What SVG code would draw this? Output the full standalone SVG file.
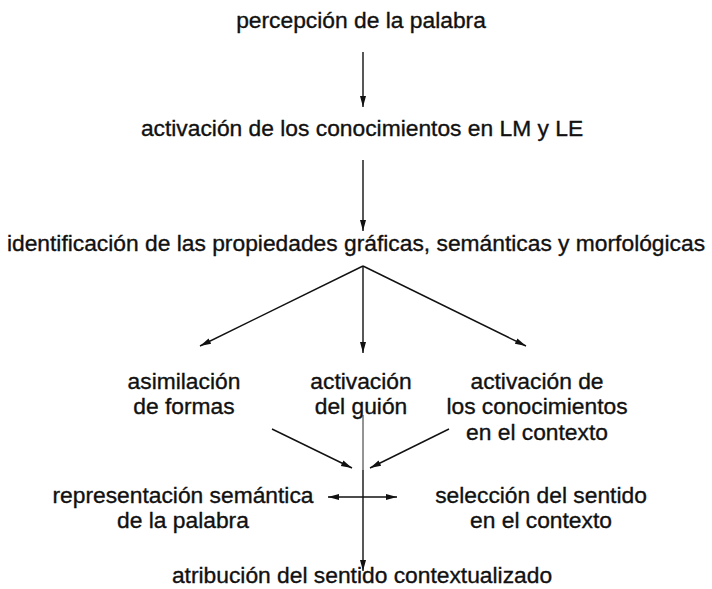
<svg xmlns="http://www.w3.org/2000/svg" width="712" height="589" viewBox="0 0 712 589">
<style>
text{font-family:"Liberation Sans",Arial,sans-serif;font-size:22.8px;fill:#111;stroke:#111;stroke-width:0.35;text-anchor:middle}
.c line{stroke:#111;stroke-width:1.4;fill:none}
.c .thin{stroke-width:0.9}
</style>
<defs>
<marker id="ah" markerWidth="12" markerHeight="8" refX="11" refY="4" orient="auto" markerUnits="userSpaceOnUse">
<path d="M0,1 L11,4 L0,7 Z" fill="#111"/>
</marker>
<marker id="ahs" markerWidth="12" markerHeight="8" refX="1" refY="4" orient="auto" markerUnits="userSpaceOnUse">
<path d="M12,1 L1,4 L12,7 Z" fill="#111"/>
</marker>
</defs>
<rect width="712" height="589" fill="#fff"/>
<g id="n1"><text x="361" y="28">percepción de la palabra</text></g>
<g id="n2"><text x="362" y="136">activación de los conocimientos en LM y LE</text></g>
<g id="n3"><text x="356" y="251">identificación de las propiedades gráficas, semánticas y morfológicas</text></g>
<g id="n4"><text x="184" y="389">asimilación</text><text x="184" y="414">de formas</text></g>
<g id="n5"><text x="361" y="389">activación</text><text x="361" y="414">del guión</text></g>
<g id="n6"><text x="537" y="389">activación de</text><text x="537" y="414">los conocimientos</text><text x="537" y="440">en el contexto</text></g>
<g id="n7"><text x="183" y="503">representación semántica</text><text x="183" y="528">de la palabra</text></g>
<g id="n8"><text x="541" y="503">selección del sentido</text><text x="541" y="528">en el contexto</text></g>
<g id="n9"><text x="362" y="583">atribución del sentido contextualizado</text></g>
<g class="c" id="connectors">
<line x1="363" y1="52" x2="363" y2="107" marker-end="url(#ah)"/>
<line x1="363" y1="160" x2="363" y2="231" marker-end="url(#ah)"/>
<line x1="363" y1="266" x2="200" y2="346" marker-end="url(#ah)"/>
<line x1="363" y1="266" x2="363" y2="353" marker-end="url(#ah)"/>
<line x1="363" y1="266" x2="526" y2="346" marker-end="url(#ah)"/>
<line x1="272" y1="429" x2="352" y2="468" marker-end="url(#ah)"/>
<line x1="449" y1="429" x2="370" y2="468" marker-end="url(#ah)"/>
<line class="thin" x1="363" y1="415" x2="363" y2="470"/>
<line x1="363" y1="470" x2="363" y2="571" marker-end="url(#ah)"/>
<line x1="328" y1="497" x2="397" y2="497" marker-start="url(#ahs)" marker-end="url(#ah)"/>
</g>
</svg>
